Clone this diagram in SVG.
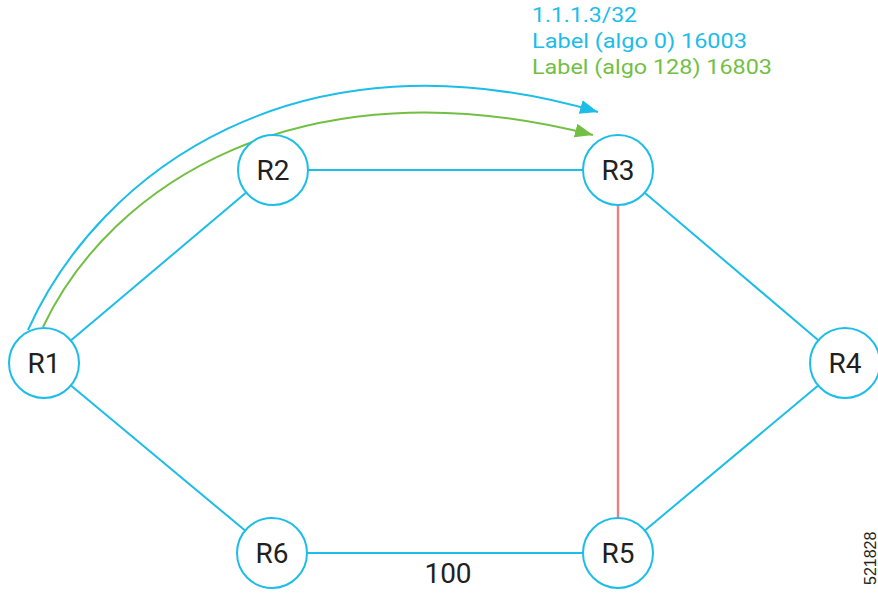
<svg xmlns="http://www.w3.org/2000/svg" width="878" height="593" viewBox="0 0 878 593">
<style>
.node circle{fill:#fff;stroke:#1cbde9;stroke-width:2}
.node text{font-family:Roboto,"Liberation Sans",sans-serif;font-size:28px;fill:#231f20;text-anchor:middle}
.link{stroke:#1cbde9;stroke-width:2;fill:none}
.red{stroke:#ee7f7f;stroke-width:2.4;fill:none}
.pb{stroke:#1cbde9;stroke-width:2;fill:none}
.pg{stroke:#72bf44;stroke-width:2;fill:none}
.lbl{font-family:Roboto,"Liberation Sans",sans-serif;font-size:21px}
</style>
<defs>
<marker id="ab" markerUnits="userSpaceOnUse" markerWidth="20" markerHeight="16" refX="18" refY="7" orient="auto"><path d="M0,0 L18,7 L0,14 z" fill="#1cbde9"/></marker>
<marker id="ag" markerUnits="userSpaceOnUse" markerWidth="20" markerHeight="16" refX="18" refY="7" orient="auto"><path d="M0,0 L18,7 L0,14 z" fill="#72bf44"/></marker>
</defs>
<g id="connectors">
<line class="link" x1="70.8" y1="340.5" x2="246.2" y2="192.5"/>
<line class="link" x1="308" y1="170" x2="583" y2="170"/>
<line class="link" x1="644.7" y1="192.7" x2="818.3" y2="340.3"/>
<line class="red" x1="618" y1="205" x2="618" y2="518"/>
<line class="link" x1="818.2" y1="385.5" x2="644.8" y2="530.5"/>
<line class="link" x1="307" y1="553" x2="583" y2="553"/>
<line class="link" x1="70.9" y1="385.4" x2="245.1" y2="530.6"/>
<path class="pb" d="M28,330 C100,170 300,25 598,112" marker-end="url(#ab)"/>
<path class="pg" d="M43,327 C110,185 300,60 593,135" marker-end="url(#ag)"/>
</g>
<g id="R1" class="node"><circle cx="44" cy="363" r="35"/><text x="44" y="373">R1</text></g>
<g id="R2" class="node"><circle cx="273" cy="170" r="35"/><text x="273" y="180">R2</text></g>
<g id="R3" class="node"><circle cx="618" cy="170" r="35"/><text x="618" y="180">R3</text></g>
<g id="R4" class="node"><circle cx="845" cy="363" r="35"/><text x="845" y="373">R4</text></g>
<g id="R5" class="node"><circle cx="618" cy="553" r="35"/><text x="618" y="563">R5</text></g>
<g id="R6" class="node"><circle cx="272" cy="553" r="35"/><text x="272" y="563">R6</text></g>
<g id="labels">
<text class="lbl" x="532" y="22" fill="#1cbde9" textLength="105" lengthAdjust="spacingAndGlyphs">1.1.1.3/32</text>
<text class="lbl" x="532" y="48" fill="#1cbde9" textLength="215" lengthAdjust="spacingAndGlyphs">Label (algo 0) 16003</text>
<text class="lbl" x="532" y="74" fill="#72bf44" textLength="240" lengthAdjust="spacingAndGlyphs">Label (algo 128) 16803</text>
<text x="448" y="583" font-family="Roboto,'Liberation Sans',sans-serif" font-size="28" fill="#231f20" text-anchor="middle">100</text>
<text transform="translate(876,585) rotate(-90)" font-family="'Liberation Sans',Arial,sans-serif" font-size="16" fill="#231f20">521828</text>
</g>
</svg>
